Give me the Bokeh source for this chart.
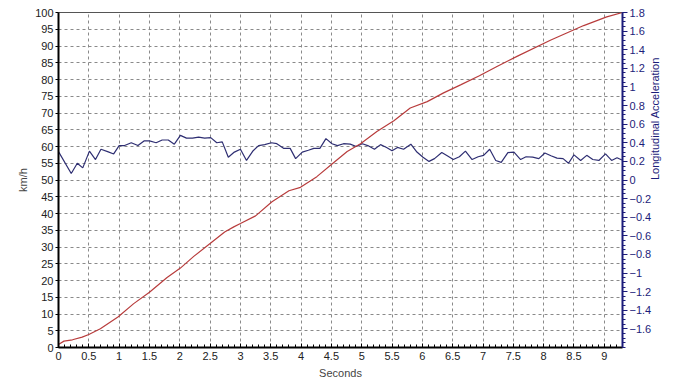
import math
from bokeh.plotting import figure
from bokeh.models import Range1d, LinearAxis, FixedTicker
from bokeh.embed import file_html
from bokeh.resources import INLINE

# ---- data ----
speed_t = [0, 0.09, 0.23, 0.39, 0.5, 0.69, 0.98, 1.24, 1.5, 1.79, 2.01, 2.23, 2.51, 2.74, 2.89, 3.0,
           3.25, 3.52, 3.8, 3.99, 4.26, 4.54, 4.76, 4.98, 5.25, 5.53, 5.8, 6.08, 6.35, 6.63, 6.94,
           7.23, 7.56, 8.11, 8.66, 9.04, 9.3]
speed_kmh = [0.9, 1.9, 2.3, 3.1, 3.9, 5.6, 9.1, 13.1, 16.5, 20.9, 23.7, 27.2, 31.2, 34.5, 36.0, 37.0,
             39.3, 43.5, 46.8, 47.8, 51.0, 55.2, 58.5, 60.8, 64.5, 67.7, 71.5, 73.4, 76.0, 78.4, 81.1,
             83.9, 86.9, 91.7, 96.1, 98.7, 100.0]

accel_t = [0.0, 0.21, 0.31, 0.40, 0.51, 0.61, 0.70, 0.81, 0.91, 1.00,
           1.09, 1.20, 1.31, 1.41, 1.50, 1.61, 1.71, 1.81, 1.91, 2.01,
           2.11, 2.21, 2.31, 2.41, 2.51, 2.61, 2.70, 2.80, 2.90, 3.00,
           3.10, 3.21, 3.30, 3.40, 3.51, 3.60, 3.71, 3.82, 3.91, 4.02,
           4.12, 4.21, 4.31, 4.41, 4.51, 4.60, 4.70, 4.81, 4.91, 5.01,
           5.10, 5.21, 5.31, 5.41, 5.50, 5.59, 5.69, 5.81, 5.91, 6.01,
           6.11, 6.20, 6.32, 6.41, 6.51, 6.61, 6.71, 6.82, 6.92, 7.01,
           7.11, 7.21, 7.30, 7.41, 7.51, 7.62, 7.71, 7.82, 7.92, 8.02,
           8.12, 8.22, 8.32, 8.41, 8.50, 8.61, 8.71, 8.81, 8.91, 9.02,
           9.12, 9.21, 9.29]
accel_g = [0.305, 0.07, 0.18, 0.13, 0.31, 0.22, 0.33, 0.305, 0.28, 0.37,
           0.37, 0.40, 0.37, 0.42, 0.42, 0.40, 0.43, 0.43, 0.385, 0.48,
           0.45, 0.45, 0.46, 0.45, 0.455, 0.40, 0.41, 0.245, 0.30, 0.33,
           0.21, 0.315, 0.37, 0.38, 0.40, 0.39, 0.34, 0.34, 0.23, 0.30,
           0.32, 0.34, 0.34, 0.445, 0.39, 0.37, 0.39, 0.385, 0.36, 0.39,
           0.37, 0.33, 0.38, 0.35, 0.315, 0.35, 0.33, 0.385, 0.30, 0.245,
           0.20, 0.23, 0.295, 0.26, 0.22, 0.25, 0.31, 0.22, 0.25, 0.265,
           0.33, 0.21, 0.19, 0.295, 0.30, 0.22, 0.25, 0.245, 0.23, 0.29,
           0.26, 0.235, 0.23, 0.18, 0.27, 0.21, 0.265, 0.22, 0.21, 0.28,
           0.21, 0.24, 0.215]

x_ticks = [i * 0.5 for i in range(19)]
left_ticks = list(range(0, 101, 5))
right_ticks = [round(-1.6 + 0.2 * i, 1) for i in range(18)]

FONT = "Liberation Sans"
NAVY = "#1c1c7a"

p = figure(width=692, height=381, output_backend="svg", toolbar_location=None,
           x_range=Range1d(0, 9.3), y_range=Range1d(0, 100),
           min_border_left=58, min_border_right=70, min_border_top=12, min_border_bottom=34)
p.extra_y_ranges = {"acc": Range1d(-1.8, 1.8)}

p.outline_line_color = "#555555"
p.outline_line_width = 1

# grid
for g in (p.xgrid, p.ygrid):
    g.grid_line_color = "#8a8a8a"
    g.grid_line_dash = "3 3"
    g.grid_line_width = 1
p.xgrid.ticker = FixedTicker(ticks=x_ticks)
p.ygrid.ticker = FixedTicker(ticks=left_ticks)

# x axis
xa = p.xaxis[0]
xa.ticker = FixedTicker(ticks=x_ticks, minor_ticks=[i * 0.1 for i in range(94)])
xa.axis_label = "Seconds"
xa.axis_line_color = "black"
xa.axis_line_width = 2
xa.major_tick_in = 4
xa.major_tick_out = 0
xa.minor_tick_in = 3
xa.minor_tick_out = 0
xa.major_label_text_font = FONT
xa.major_label_text_font_size = "11px"
xa.major_label_text_color = "#222222"
xa.axis_label_text_font = FONT
xa.axis_label_text_font_size = "11px"
xa.axis_label_text_font_style = "normal"
xa.axis_label_standoff = 4
xa.major_label_standoff = 4

# left axis
ya = p.yaxis[0]
ya.ticker = FixedTicker(ticks=left_ticks, minor_ticks=list(range(0, 101)))
ya.axis_label = "km/h"
ya.axis_line_color = "black"
ya.axis_line_width = 2
ya.major_tick_in = 0
ya.major_tick_out = 3
ya.minor_tick_in = 0
ya.minor_tick_out = 0
ya.major_label_text_font = FONT
ya.major_label_text_font_size = "11px"
ya.major_label_text_color = "#222222"
ya.axis_label_text_font = FONT
ya.axis_label_text_font_size = "11px"
ya.axis_label_text_font_style = "normal"
ya.axis_label_standoff = 3
ya.major_label_standoff = 2

# right axis
ra = LinearAxis(y_range_name="acc",
                ticker=FixedTicker(ticks=right_ticks,
                                   minor_ticks=[round(-1.8 + 0.05 * i, 2) for i in range(73)]))
ra.axis_label = "Longitudinal Acceleration"
ra.axis_label_orientation = math.pi / 2
ra.axis_line_color = NAVY
ra.axis_line_width = 2
ra.major_tick_in = 0
ra.major_tick_out = 5
ra.minor_tick_in = 0
ra.minor_tick_out = 3
ra.major_tick_line_color = NAVY
ra.minor_tick_line_color = NAVY
ra.major_label_text_font = FONT
ra.major_label_text_font_size = "11px"
ra.major_label_text_color = NAVY
ra.major_label_standoff = 2
ra.axis_label_text_font = FONT
ra.axis_label_text_font_size = "11px"
ra.axis_label_text_font_style = "normal"
ra.axis_label_text_color = NAVY
ra.axis_label_standoff = 1
p.add_layout(ra, "right")

# lines
p.line(accel_t, accel_g, y_range_name="acc", line_color="#2e2e72", line_width=1.2)
p.line(speed_t, speed_kmh, line_color="#b83c3c", line_width=1.2)

open("out.html", "w").write(file_html(p, INLINE))
